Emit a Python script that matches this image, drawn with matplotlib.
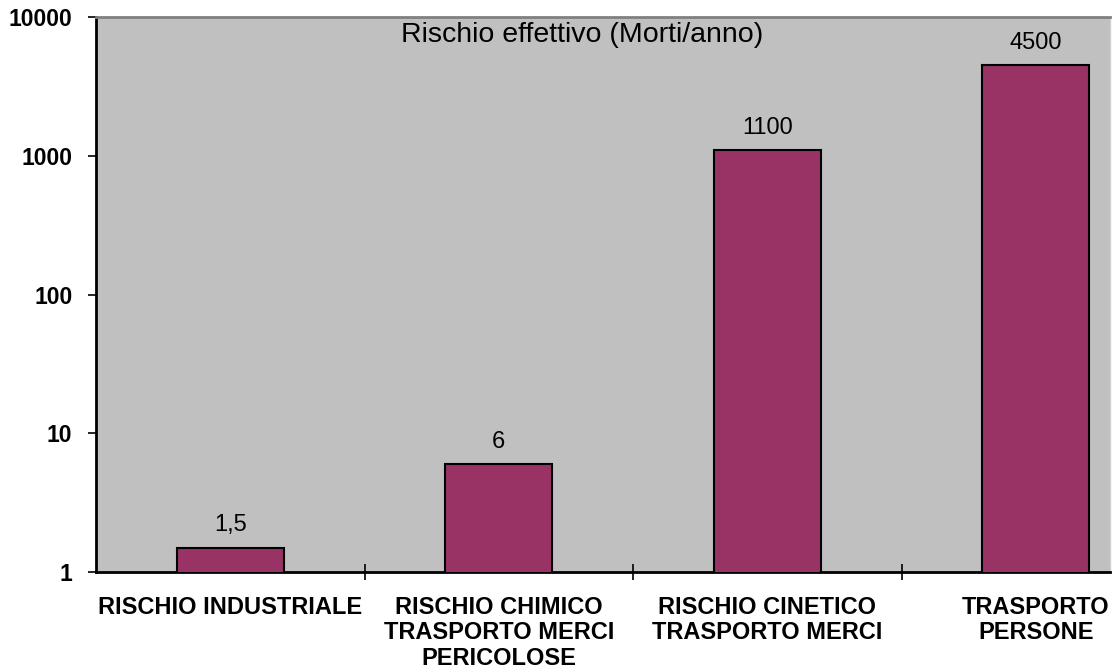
import matplotlib
matplotlib.use("Agg")
import matplotlib.pyplot as plt
import numpy as np

categories = ["RISCHIO INDUSTRIALE",
              "RISCHIO CHIMICO\nTRASPORTO MERCI\nPERICOLOSE",
              "RISCHIO CINETICO\nTRASPORTO MERCI",
              "TRASPORTO\nPERSONE"]
values = [1.5, 6, 1100, 4500]
value_labels = ["1,5", "6", "1100", "4500"]
y_ticks = [1, 10, 100, 1000, 10000]
title = "Rischio effettivo (Morti/anno)"

plt.rcParams['font.family'] = ['Liberation Sans', 'DejaVu Sans']

W, H = 1114, 670
fig = plt.figure(figsize=(W / 100, H / 100), dpi=100)
left, right, top, bottom = 96, 1110, 17, 572
ax = fig.add_axes([left / W, 1 - bottom / H, (right - left) / W, (bottom - top) / H])
ax.set_facecolor("#C0C0C0")

x = np.arange(len(categories))
ax.set_yscale("log")
ax.bar(x, values, width=0.40, color="#993366", edgecolor="black",
       linewidth=1.5, zorder=3)
ax.set_ylim(1, 10000)
cat_w = 268.5
ax.set_xlim(-0.5, -0.5 + (right - left) / cat_w)

for xi, v, lab in zip(x, values, value_labels):
    ax.annotate(lab, (xi, v), xytext=(0, 8), textcoords="offset points",
                ha="center", va="bottom", fontsize=17, color="black")

ax.set_yticks(y_ticks)
ax.set_yticklabels([str(t) for t in y_ticks], fontweight="bold", fontsize=16.5)
ax.yaxis.set_minor_locator(matplotlib.ticker.NullLocator())
ax.tick_params(axis="y", direction="out", length=6, width=1.2, pad=11)

ax.set_xticks(x)
ax.set_xticklabels(categories, fontweight="bold", fontsize=17, linespacing=1.15)
ax.tick_params(axis="x", which="major", length=0, pad=17)
ax.set_xticks(np.arange(0.5, len(categories) - 0.5), minor=True)
ax.tick_params(axis="x", which="minor", direction="inout", length=12, width=1.2)

for s in ("left", "bottom"):
    ax.spines[s].set_linewidth(2)
    ax.spines[s].set_color("black")
ax.spines["top"].set_color("#808080")
ax.spines["top"].set_linewidth(2)
ax.spines["right"].set_color("#D0D0D0")
ax.spines["right"].set_linewidth(1)

ax.text(0.479, 0.968, title, transform=ax.transAxes, ha="center", va="center",
        fontsize=20.5, color="black")

fig.savefig("out.png", dpi=100)
